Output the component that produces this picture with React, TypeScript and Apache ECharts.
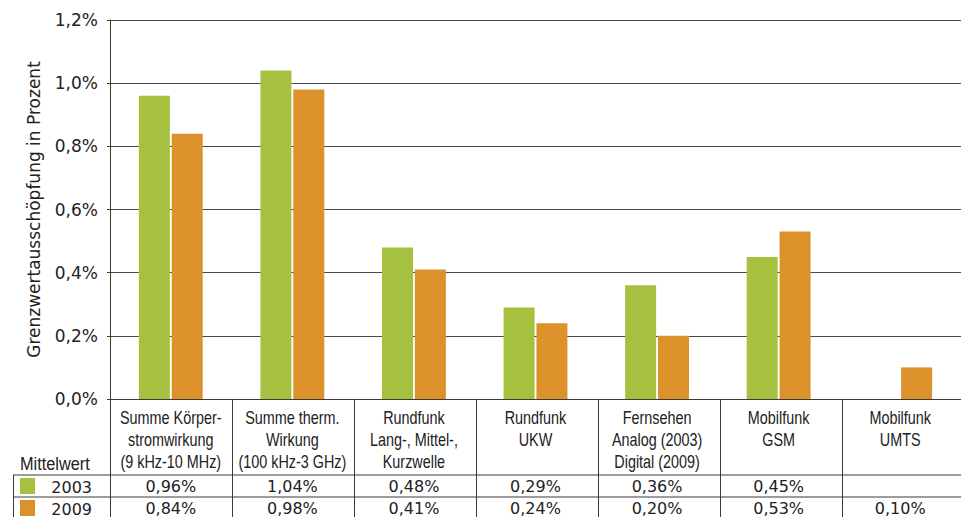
import React, { useEffect, useRef } from "react";
import * as echarts from "echarts";

const categories = [
  "Summe Körper-\nstromwirkung\n(9 kHz-10 MHz)",
  "Summe therm.\nWirkung\n(100 kHz-3 GHz)",
  "Rundfunk\nLang-, Mittel-,\nKurzwelle",
  "Rundfunk\nUKW",
  "Fernsehen\nAnalog (2003)\nDigital (2009)",
  "Mobilfunk\nGSM",
  "Mobilfunk\nUMTS",
];
const seriesNames = ["2003", "2009"];
const values2003: (number | null)[] = [0.96, 1.04, 0.48, 0.29, 0.36, 0.45, null];
const values2009: (number | null)[] = [0.84, 0.98, 0.41, 0.24, 0.2, 0.53, 0.1];
const yMin = 0;
const yMax = 1.2;
const yStep = 0.2;
const yAxisTitle = "Grenzwertausschöpfung in Prozent";
const rowHeaderTitle = "Mittelwert";

const GREEN = "#a5c13f";
const ORANGE = "#dc912b";
const TEXT = "#222";
const LINE = "#3a3a3a";

const NARROW = '"Liberation Sans", Arial, sans-serif';
const WIDE = '"DejaVu Sans", "Liberation Sans", sans-serif';

const GRID_LEFT = 110;
const GRID_TOP = 20;
const GRID_BOTTOM_Y = 400;
const COL_W = 122;
const ROW1_Y = 475;
const ROW2_Y = 497;
const TABLE_LEFT = 13;
const W = 961;
const H = 517;

const fmtPct = (v: number | null) =>
  v == null ? "" : v.toFixed(2).replace(".", ",") + "%";

export default function App() {
  const ref = useRef<HTMLDivElement>(null);
  useEffect(() => {
    if (!ref.current) return;
    const chart = echarts.init(ref.current, undefined, { renderer: "svg" });
    const n = categories.length;
    const gridW = COL_W * n;

    const tableAxis = (data: (number | null)[], offset: number) => ({
      type: "category",
      data: data.map(fmtPct),
      position: "bottom",
      offset,
      axisLine: { show: false },
      axisTick: { show: false },
      splitLine: { show: false },
      axisLabel: {
        interval: 0,
        margin: 0,
        color: TEXT,
        fontFamily: WIDE,
        fontSize: 16,
        lineHeight: 18,
      },
    });

    chart.setOption({
      animation: false,
      textStyle: { fontFamily: WIDE },
      grid: {
        left: GRID_LEFT,
        top: GRID_TOP,
        width: gridW,
        height: GRID_BOTTOM_Y - GRID_TOP,
        containLabel: false,
      },
      xAxis: [
        {
          type: "category",
          data: categories,
          axisLine: { show: true, lineStyle: { color: LINE, width: 1 } },
          axisTick: { show: false },
          splitLine: { show: false },
          axisLabel: { show: false },
        },
        tableAxis(values2003, 78),
        tableAxis(values2009, 100),
      ],
      yAxis: {
        type: "value",
        min: yMin,
        max: yMax,
        interval: yStep,
        name: yAxisTitle,
        nameLocation: "middle",
        nameRotate: 90,
        nameGap: 68,
        nameTextStyle: { fontFamily: WIDE, fontSize: 17, color: TEXT },
        axisLine: { show: true, lineStyle: { color: LINE, width: 1 } },
        axisTick: { show: true, length: 3, lineStyle: { color: LINE } },
        splitLine: { show: true, lineStyle: { color: "#4a4a4a", width: 1 } },
        axisLabel: {
          margin: 12,
          color: TEXT,
          fontFamily: WIDE,
          fontSize: 17,
          formatter: (v: number) => v.toFixed(1).replace(".", ",") + "%",
        },
      },
      series: [
        {
          name: seriesNames[0],
          type: "bar",
          data: values2003,
          barWidth: 31,
          barGap: "6%",
          itemStyle: { color: GREEN },
        },
        {
          name: seriesNames[1],
          type: "bar",
          data: values2009,
          barWidth: 31,
          barGap: "6%",
          itemStyle: { color: ORANGE },
        },
      ],
    });

    const graphics: any[] = [];
    const lineStyle = { stroke: LINE, lineWidth: 1 };
    graphics.push({
      type: "line",
      shape: { x1: TABLE_LEFT, y1: ROW1_Y, x2: W, y2: ROW1_Y },
      style: lineStyle,
    });
    graphics.push({
      type: "line",
      shape: { x1: TABLE_LEFT, y1: ROW2_Y, x2: W, y2: ROW2_Y },
      style: lineStyle,
    });
    graphics.push({
      type: "line",
      shape: { x1: TABLE_LEFT + 0.5, y1: ROW1_Y, x2: TABLE_LEFT + 0.5, y2: H },
      style: lineStyle,
    });
    for (let i = 0; i <= n; i++) {
      const x = GRID_LEFT + i * COL_W + 0.5;
      graphics.push({
        type: "line",
        shape: { x1: x, y1: GRID_BOTTOM_Y, x2: x, y2: H },
        style: lineStyle,
      });
    }
    categories.forEach((c, i) => {
      const cx = chart.convertToPixel({ xAxisIndex: 0 }, i) as number;
      graphics.push({
        type: "text",
        x: cx,
        y: 406,
        scaleX: 0.8,
        style: {
          text: c,
          font: `18px ${NARROW}`,
          fill: TEXT,
          align: "center",
          verticalAlign: "top",
          lineHeight: 22,
        },
      });
    });
    graphics.push({
      type: "text",
      x: 20,
      y: 464,
      scaleX: 0.86,
      style: {
        text: rowHeaderTitle,
        font: `19px ${NARROW}`,
        fill: TEXT,
        align: "left",
        verticalAlign: "middle",
      },
    });
    const rowYs = [ROW1_Y, ROW2_Y];
    const colors = [GREEN, ORANGE];
    seriesNames.forEach((name, k) => {
      graphics.push({
        type: "rect",
        shape: { x: 20, y: rowYs[k] + 3, width: 15, height: 16 },
        style: { fill: colors[k] },
      });
      graphics.push({
        type: "text",
        x: 92,
        y: rowYs[k] + 12,
        style: {
          text: name,
          font: `16px ${WIDE}`,
          fill: TEXT,
          align: "right",
          verticalAlign: "middle",
        },
      });
    });
    chart.setOption({ graphic: graphics });
    return () => chart.dispose();
  }, []);
  return (
    <div
      ref={ref}
      style={{ position: "absolute", left: 0, top: 0, width: W, height: H, background: "#fff" }}
    />
  );
}
